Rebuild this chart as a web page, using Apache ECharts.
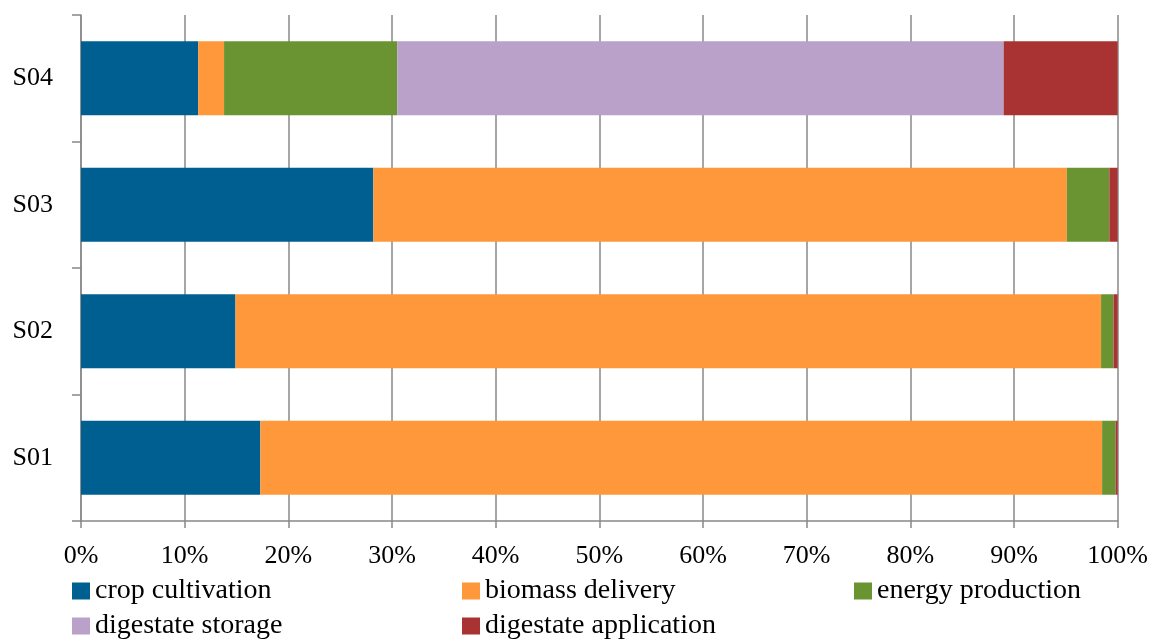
<!DOCTYPE html>
<html>
<head>
<meta charset="utf-8">
<script src="https://cdn.jsdelivr.net/npm/echarts@6/dist/echarts.min.js"></script>
<style>html,body{margin:0;padding:0;background:#fff;}#c{width:1151px;height:639px;}</style>
</head>
<body>
<div id="c"></div>
<script>
const categories = ['S01', 'S02', 'S03', 'S04'];
const cropCultivation = [17.3, 14.9, 28.2, 11.3];
const biomassDelivery = [81.2, 83.5, 66.9, 2.5];
const energyProduction = [1.3, 1.2, 4.1, 16.7];
const digestateStorage = [0, 0, 0, 58.5];
const digestateApplication = [0.2, 0.4, 0.8, 11.0];
const xTicks = [0, 10, 20, 30, 40, 50, 60, 70, 80, 90, 100];

const seriesNames = ['crop cultivation', 'biomass delivery', 'energy production', 'digestate storage', 'digestate application'];
const seriesData = [cropCultivation, biomassDelivery, energyProduction, digestateStorage, digestateApplication];
const colors = ['#005f91', '#ff983b', '#6a9432', '#b9a1c9', '#a93332'];

const FONT = 'Liberation Serif';
const legendPos = [
  {left: 72, top: 577},
  {left: 462, top: 577},
  {left: 854, top: 577},
  {left: 72, top: 612},
  {left: 462, top: 612}
];

const chart = echarts.init(document.getElementById('c'), null, {renderer: 'canvas'});
chart.setOption({
  animation: false,
  backgroundColor: '#fff',
  color: colors,
  grid: {left: 81, right: 30, top: 15, bottom: 118, containLabel: false},
  legend: seriesNames.map((n, i) => ({
    data: [n], left: legendPos[i].left, top: legendPos[i].top,
    itemWidth: 18, itemHeight: 17, itemGap: 0, icon: 'rect', padding: 0,
    textStyle: {fontFamily: FONT, fontSize: 28, color: '#000', padding: [0, 0, 0, 0]}
  })),
  xAxis: {
    type: 'value', min: 0, max: 100, interval: 10,
    axisLine: {show: true, lineStyle: {color: '#888', width: 1.5}},
    axisTick: {show: true, length: 7, lineStyle: {color: '#888', width: 1.5}},
    splitLine: {show: true, lineStyle: {color: '#888', width: 1.5}},
    axisLabel: {formatter: '{value}%', fontFamily: FONT, fontSize: 26, color: '#000', margin: 22}
  },
  yAxis: {
    type: 'category', data: categories,
    axisLine: {show: true, lineStyle: {color: '#888', width: 1.5}},
    axisTick: {show: true, length: 9, alignWithLabel: false, lineStyle: {color: '#888', width: 1.5}},
    axisLabel: {fontFamily: FONT, fontSize: 26, color: '#000', margin: 28}
  },
  series: seriesNames.map((n, i) => ({
    name: n, type: 'bar', stack: 'total', barWidth: 74,
    data: seriesData[i],
    itemStyle: {color: colors[i]}
  }))
});
</script>
</body>
</html>
